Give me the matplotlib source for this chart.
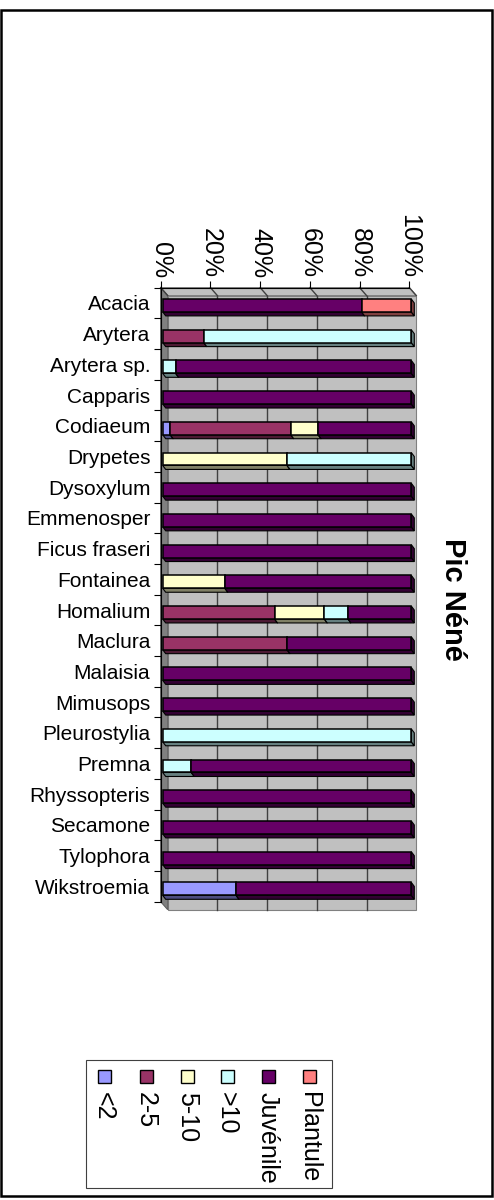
import matplotlib
matplotlib.use("Agg")
import matplotlib.pyplot as plt
from matplotlib.patches import Polygon, Rectangle
import matplotlib.transforms as mtransforms
import numpy as np

plt.rcParams['font.family'] = ['Liberation Sans', 'DejaVu Sans']

# --- donnees (% par classe de diametre) ---
especes = ["Acacia", "Arytera", "Arytera sp.", "Capparis", "Codiaeum", "Drypetes",
           "Dysoxylum", "Emmenosper", "Ficus fraseri", "Fontainea", "Homalium",
           "Maclura", "Malaisia", "Mimusops", "Pleurostylia", "Premna",
           "Rhyssopteris", "Secamone", "Tylophora", "Wikstroemia"]
classes = ["<2", "2-5", "5-10", ">10", "Juvénile", "Plantule"]

moins_2 = [0, 0, 0, 0, 3, 0, 0, 0, 0, 0, 0, 0, 0, 0, 0, 0, 0, 0, 0, 29.5]
de_2_5 = [0, 16.5, 0, 0, 48.5, 0, 0, 0, 0, 0, 45, 50, 0, 0, 0, 0, 0, 0, 0, 0]
de_5_10 = [0, 0, 0, 0, 11, 50, 0, 0, 0, 25, 20, 0, 0, 0, 0, 0, 0, 0, 0, 0]
plus_10 = [0, 83.5, 5.2, 0, 0, 50, 0, 0, 0, 0, 9.5, 0, 0, 0, 100, 11.5, 0, 0, 0, 0]
juvenile = [80, 0, 94.8, 100, 37.5, 0, 100, 100, 100, 75, 25.5, 50, 100, 100, 0, 88.5,
            100, 100, 100, 70.5]
plantule = [20, 0, 0, 0, 0, 0, 0, 0, 0, 0, 0, 0, 0, 0, 0, 0, 0, 0, 0, 0]
series = [moins_2, de_2_5, de_5_10, plus_10, juvenile, plantule]

ticks_pct = [0, 20, 40, 60, 80, 100]

couleurs = ["#9999FF", "#993366", "#FFFFCC", "#CCFFFF", "#660066", "#FF8080"]
ombres = ["#4D4D80", "#4D1A33", "#808066", "#668080", "#330033", "#804040"]

W, H = 494, 1200
def fx(x):
    return x / W
def fy(y):
    return 1 - y / H

fig = plt.figure(figsize=(W / 100, H / 100), dpi=100)

# plan avant du graphe
ax = fig.add_axes([fx(160.7), fy(901.7), fx(409.3) - fx(160.7), fy(287.6) - fy(901.7)])
ax.set_xlim(0, 100)
ax.set_ylim(len(especes) - 0.5, -0.5)
ax.patch.set_alpha(0)

ident = mtransforms.IdentityTransform()
D = np.array([7.0, -8.0])     # profondeur du mur (pixels)
F = np.array([2.0, -2.5])     # decalage de la face avant des barres
d = np.array([3.0, -4.0])     # epaisseur des barres
n = len(especes)

def disp(pts):
    return ax.transData.transform(np.array(pts, dtype=float))

def poly(pts, **kw):
    ax.add_patch(Polygon(pts, closed=True, transform=ident, clip_on=False, **kw))

# mur du fond
mur = disp([[0, -0.5], [100, -0.5], [100, n - 0.5], [0, n - 0.5]]) + D
poly(mur, facecolor="#C0C0C0", edgecolor="#808080", lw=0.8, zorder=0)
# face du haut
avant = disp([[0, -0.5], [100, -0.5]])
poly(np.vstack([avant, (avant + D)[::-1]]), facecolor="#C0C0C0", edgecolor="#808080",
     lw=0.8, zorder=0)
# plancher (a gauche)
gauche = disp([[0, -0.5], [0, n - 0.5]])
poly(np.vstack([gauche, (gauche + D)[::-1]]), facecolor="#808080", edgecolor="#606060",
     lw=0.8, zorder=1)

# quadrillage
for t in ticks_pct[1:-1]:
    p = disp([[t, -0.5], [t, n - 0.5]]) + D
    ax.plot(p[:, 0], p[:, 1], color="#404040", lw=1.0, transform=ident, zorder=1,
            clip_on=False)
for t in ticks_pct:
    p = disp([[t, -0.5]])[0]
    q = p + D
    ax.plot([p[0], q[0]], [p[1], q[1]], color="#404040", lw=1.0, transform=ident,
            zorder=1, clip_on=False)

# barres 3D empilees
h = 0.42
for i in range(n):
    cum = 0.0
    for k, vals in enumerate(series):
        v = vals[i]
        if v <= 0:
            continue
        x0, x1 = cum, cum + v
        tl, tr, br, bl = disp([[x0, i - h / 2], [x1, i - h / 2], [x1, i + h / 2],
                               [x0, i + h / 2]]) + F
        poly([bl, br, br + d, bl + d], facecolor=ombres[k], edgecolor="black", lw=0.8, zorder=3)
        poly([tr, tr + d, br + d, br], facecolor=ombres[k], edgecolor="black", lw=0.8, zorder=3)
        poly([tl, tr, br, bl], facecolor=couleurs[k], edgecolor="black", lw=1.1, zorder=3)
        cum = x1

# axes
for s in ["right", "bottom"]:
    ax.spines[s].set_visible(False)
ax.spines["left"].set_color("black")
ax.spines["top"].set_color("black")
ax.spines["left"].set_zorder(4)

ax.xaxis.tick_top()
ax.set_xticks(ticks_pct)
ax.set_xticklabels([f"{t}%" for t in ticks_pct], rotation=-90, fontsize=18)
ax.tick_params(axis="x", direction="out", length=5, width=0.8, pad=2)

ax.set_yticks(range(n))
ax.set_yticklabels(especes, fontsize=15)
ax.tick_params(axis="y", which="major", length=0, pad=7.5)
ax.set_yticks(np.arange(-0.5, n), minor=True)
ax.tick_params(axis="y", which="minor", length=5, width=0.8, direction="out")

# titre
fig.text(fx(453), fy(599), "Pic Néné", rotation=-90, fontsize=21, fontweight="bold",
         ha="center", va="center")

# legende
fig.patches.append(Rectangle((fx(85.7), fy(1188)), fx(331.7) - fx(85.7), fy(1060) - fy(1188),
                             transform=fig.transFigure, fill=False, edgecolor="#404040", lw=0.8))
leg_x = [104, 146, 187, 227, 268, 309]
for k, lab in enumerate(classes):
    cx = leg_x[k]
    fig.patches.append(Rectangle((fx(cx - 6.5), fy(1083)), fx(13), 13 / H,
                                 transform=fig.transFigure, facecolor=couleurs[k],
                                 edgecolor="black", lw=1.0))
    fig.text(fx(cx), fy(1092), lab, rotation=-90, fontsize=18, ha="center", va="top")

# cadre
fig.patches.append(Rectangle((fx(1), fy(1196)), fx(491), 1186 / H, transform=fig.transFigure,
                             fill=False, edgecolor="black", lw=1.8))

fig.savefig("out.png", dpi=100)
